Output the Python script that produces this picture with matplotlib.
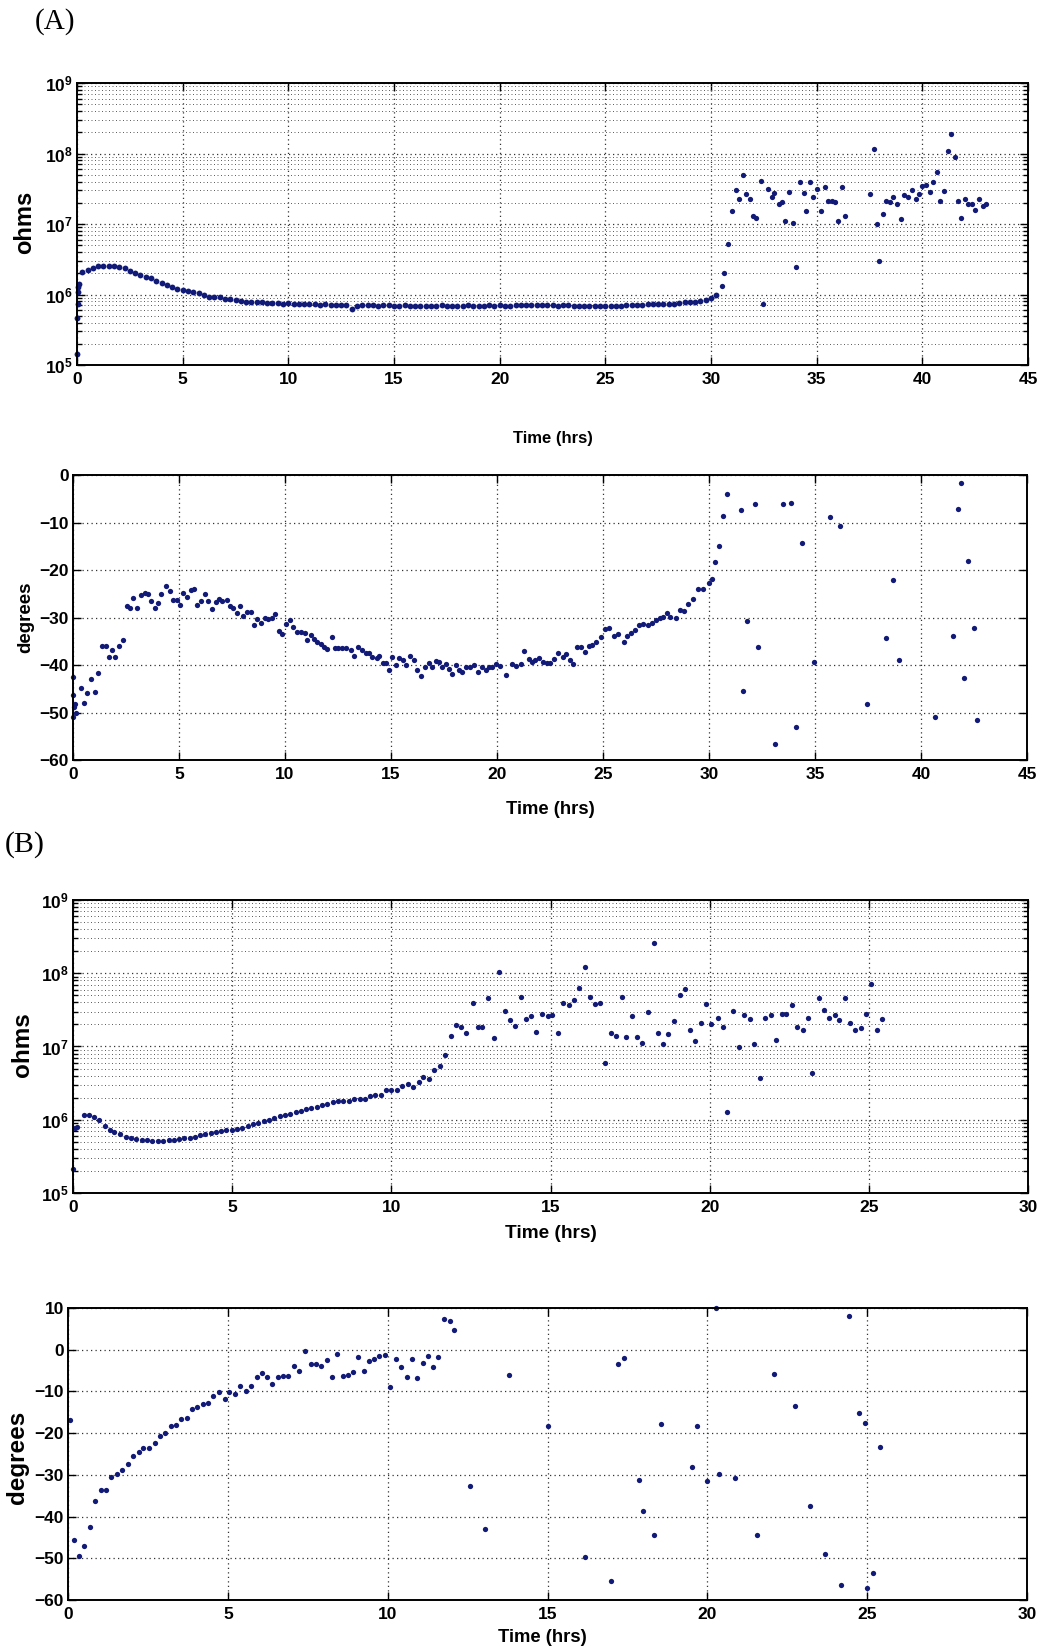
import numpy as np
import matplotlib
matplotlib.use("Agg")
import matplotlib.pyplot as plt
from matplotlib.ticker import LogLocator, NullFormatter

plt.rcParams['font.family'] = ['Liberation Sans', 'DejaVu Sans']
plt.rcParams['font.weight'] = 'bold'
plt.rcParams['mathtext.fontset'] = 'custom'
plt.rcParams['mathtext.rm'] = 'Liberation Sans:bold'
plt.rcParams['mathtext.bf'] = 'Liberation Sans:bold'
plt.rcParams['mathtext.it'] = 'Liberation Sans:bold'

# ---------------- data ----------------
# (A) impedance magnitude, log10(ohms) -- dense early part
A_OHM_T = [0.0, 0.0, 0.03, 0.05, 0.07, 0.1,
           0.25, 0.5, 0.75, 1.0, 1.25, 1.5, 1.75, 2.0, 2.25, 2.5, 2.75, 3.0, 3.25, 3.5, 3.75,
           4.0, 4.25, 4.5, 4.75, 5.0, 5.25, 5.5, 5.75, 6.0, 6.25, 6.5, 6.75, 7.0, 7.25, 7.5, 7.75,
           8.0, 8.25, 8.5, 8.75, 9.0, 9.25, 9.5, 9.75, 10.0, 10.25, 10.5, 10.75, 11.0, 11.25, 11.5,
           11.75, 12.0, 12.25, 12.5, 12.75, 13.0, 13.25, 13.5, 13.75, 14.0, 14.25, 14.5, 14.75,
           15.0, 15.25, 15.5, 15.75, 16.0, 16.25, 16.5, 16.75, 17.0, 17.25, 17.5, 17.75, 18.0,
           18.25, 18.5, 18.75, 19.0, 19.25, 19.5, 19.75, 20.0, 20.25, 20.5, 20.75, 21.0, 21.25,
           21.5, 21.75, 22.0, 22.25, 22.5, 22.75, 23.0, 23.25, 23.5, 23.75, 24.0, 24.25, 24.5,
           24.75, 25.0, 25.25, 25.5, 25.75, 26.0, 26.25, 26.5, 26.75, 27.0, 27.25, 27.5, 27.75,
           28.0, 28.25, 28.5, 28.75, 29.0, 29.25, 29.5, 29.75, 30.0, 30.25]
A_OHM_LOG = [5.15, 5.66, 5.87, 6.04, 6.11, 6.15,
             6.32, 6.35, 6.38, 6.41, 6.40, 6.41, 6.41, 6.39, 6.37, 6.33, 6.30, 6.27, 6.25, 6.23, 6.19,
             6.16, 6.13, 6.10, 6.08, 6.06, 6.05, 6.04, 6.02, 5.99, 5.97, 5.97, 5.96, 5.94, 5.93, 5.92, 5.91,
             5.90, 5.90, 5.89, 5.89, 5.88, 5.88, 5.88, 5.87, 5.88, 5.87, 5.87, 5.86, 5.86, 5.86, 5.85,
             5.86, 5.85, 5.85, 5.85, 5.85, 5.80, 5.84, 5.85, 5.85, 5.85, 5.84, 5.85, 5.85,
             5.84, 5.84, 5.85, 5.84, 5.84, 5.84, 5.84, 5.84, 5.84, 5.85, 5.84, 5.84, 5.84,
             5.84, 5.85, 5.84, 5.84, 5.84, 5.85, 5.84, 5.85, 5.84, 5.84, 5.85, 5.85, 5.85,
             5.85, 5.85, 5.85, 5.85, 5.85, 5.84, 5.85, 5.85, 5.84, 5.84, 5.84, 5.84, 5.84,
             5.84, 5.84, 5.84, 5.84, 5.84, 5.85, 5.85, 5.85, 5.85, 5.86, 5.86, 5.86, 5.86,
             5.87, 5.87, 5.88, 5.89, 5.89, 5.90, 5.91, 5.92, 5.95, 5.99]
# (A) after the jump
A_OHM_LATE = [(30.5, 6.12), (30.63, 6.30), (30.8, 6.72), (31.0, 7.18), (31.17, 7.48), (31.33, 7.36),
              (31.53, 7.69), (31.66, 7.43), (31.85, 7.36), (32.0, 7.12), (32.15, 7.09), (32.37, 7.61),
              (32.48, 5.87), (32.7, 7.50), (32.9, 7.39), (33.0, 7.44), (33.2, 7.29), (33.35, 7.31),
              (33.5, 7.04), (33.7, 7.46), (33.86, 7.02), (34.0, 6.39), (34.19, 7.60), (34.38, 7.44),
              (34.5, 7.18), (34.7, 7.60), (34.85, 7.39), (35.0, 7.49), (35.2, 7.18), (35.38, 7.52),
              (35.53, 7.33), (35.72, 7.33), (35.88, 7.31), (36.0, 7.04), (36.2, 7.53), (36.35, 7.11),
              (37.5, 7.43), (37.7, 8.06), (37.85, 7.0), (37.95, 6.48), (38.15, 7.14), (38.3, 7.33),
              (38.47, 7.31), (38.63, 7.38), (38.82, 7.29), (38.97, 7.07), (39.13, 7.41), (39.32, 7.39),
              (39.5, 7.48), (39.7, 7.35), (39.82, 7.42), (39.98, 7.54), (40.17, 7.55), (40.35, 7.46),
              (40.5, 7.59), (40.7, 7.74), (40.84, 7.33), (41.03, 7.47), (41.22, 8.03), (41.36, 8.28),
              (41.53, 7.95), (41.7, 7.33), (41.83, 7.09), (42.0, 7.36), (42.17, 7.28), (42.33, 7.28),
              (42.5, 7.20), (42.7, 7.36), (42.85, 7.26), (43.0, 7.29)]
# (A) phase, degrees
A_PHASE = [(0.0, -42.5), (0.0, -46.4), (0.02, -51.0), (0.05, -48.9), (0.1, -48.2), (0.12, -50.1),
           (0.36, -44.9), (0.53, -48.0), (0.66, -45.9), (0.85, -43.0), (1.04, -45.7), (1.16, -41.6),
           (1.38, -35.9), (1.54, -35.9), (1.68, -38.4), (1.86, -36.8), (2.0, -38.3), (2.17, -35.9),
           (2.36, -34.7), (2.53, -27.6), (2.67, -27.9), (2.85, -25.8), (3.02, -28.1), (3.22, -25.2),
           (3.38, -24.8), (3.52, -25.1), (3.68, -26.6), (3.85, -27.9), (4.0, -26.9), (4.17, -25.1),
           (4.37, -23.3), (4.56, -24.4), (4.7, -26.4), (4.89, -26.4), (5.05, -27.3), (5.19, -24.9),
           (5.36, -25.7), (5.55, -24.3), (5.72, -23.9), (5.86, -27.4), (6.02, -26.6), (6.23, -25.1),
           (6.38, -26.5), (6.56, -28.3), (6.73, -26.7), (6.89, -26.0), (7.04, -26.5), (7.25, -26.4),
           (7.4, -27.6), (7.56, -28.0), (7.72, -29.0), (7.88, -27.5), (8.03, -29.6), (8.22, -28.8),
           (8.38, -28.8), (8.54, -31.5), (8.69, -30.4), (8.87, -31.2), (9.04, -30.2), (9.21, -30.4),
           (9.37, -30.2), (9.53, -29.3), (9.72, -32.8), (9.87, -33.4), (10.03, -31.4), (10.22, -30.6),
           (10.39, -32.0), (10.55, -33.0), (10.74, -33.0), (10.93, -33.2), (11.05, -34.8), (11.21, -33.6),
           (11.37, -34.5), (11.53, -35.2), (11.68, -35.5), (11.84, -36.2), (12.0, -36.7), (12.2, -34.1),
           (12.36, -36.4), (12.52, -36.4), (12.7, -36.4), (12.9, -36.4), (13.1, -36.9), (13.27, -38.0),
           (13.46, -36.2), (13.65, -36.9), (13.8, -37.4), (13.96, -37.4), (14.12, -38.3), (14.32, -38.5),
           (14.43, -38.0), (14.6, -39.6), (14.75, -39.5), (14.9, -41.0), (15.06, -38.3), (15.25, -39.9),
           (15.38, -38.5), (15.57, -39.0), (15.72, -40.1), (15.88, -38.0), (16.07, -39.0), (16.24, -41.0),
           (16.4, -42.4), (16.6, -40.4), (16.8, -39.5), (16.95, -40.4), (17.1, -39.2), (17.26, -39.4),
           (17.42, -40.4), (17.58, -39.7), (17.74, -40.8), (17.9, -41.8), (18.05, -40.1), (18.2, -41.1),
           (18.36, -41.4), (18.55, -40.4), (18.74, -40.4), (18.93, -40.1), (19.09, -41.5), (19.28, -40.4),
           (19.47, -41.1), (19.62, -40.4), (19.78, -40.4), (19.97, -39.7), (20.14, -40.3), (20.41, -42.2),
           (20.72, -39.7), (20.9, -40.2), (21.13, -39.8), (21.28, -37.0), (21.49, -38.7), (21.65, -39.4),
           (21.8, -39.0), (21.96, -38.5), (22.15, -39.3), (22.34, -39.6), (22.5, -39.5), (22.7, -38.8),
           (22.9, -37.5), (23.1, -38.4), (23.26, -37.7), (23.42, -38.9), (23.6, -39.7), (23.77, -36.2),
           (23.94, -36.2), (24.13, -37.2), (24.32, -36.1), (24.5, -35.8), (24.68, -35.1), (24.89, -34.0),
           (25.1, -32.5), (25.28, -32.3), (25.52, -33.9), (25.73, -33.5), (26.0, -35.1), (26.15, -33.9),
           (26.34, -33.2), (26.5, -32.6), (26.69, -31.6), (26.9, -31.3), (27.1, -31.6), (27.3, -31.1),
           (27.5, -30.6), (27.69, -30.1), (27.85, -29.8), (28.0, -29.0), (28.16, -29.8), (28.43, -30.1),
           (28.64, -28.5), (28.83, -28.7), (29.03, -27.1), (29.24, -26.1), (29.5, -24.0), (29.71, -24.0),
           (29.98, -22.8), (30.14, -21.8), (30.3, -18.4), (30.49, -14.9), (30.66, -8.6), (30.85, -4.1),
           (31.5, -7.4), (31.6, -45.5), (31.8, -30.7), (32.16, -6.1), (32.32, -36.2), (33.13, -56.6),
           (33.5, -6.1), (33.85, -5.9), (34.12, -53.1), (34.38, -14.4), (34.96, -39.3), (35.69, -8.8),
           (36.18, -10.7), (37.45, -48.2), (38.33, -34.4), (38.66, -22.1), (38.94, -38.9), (40.67, -50.9),
           (41.5, -33.9), (41.73, -7.2), (41.89, -1.6), (42.01, -42.7), (42.22, -18.2), (42.5, -32.3),
           (42.66, -51.6)]

# (B) impedance magnitude, log10(ohms)
B_OHM = [(0.0, 5.33), (0.07, 5.89), (0.12, 5.90), (0.33, 6.07), (0.49, 6.07), (0.67, 6.04),
         (0.82, 5.99), (0.99, 5.92), (1.15, 5.86), (1.3, 5.83), (1.48, 5.80), (1.65, 5.77),
         (1.81, 5.75), (1.98, 5.74), (2.16, 5.73), (2.31, 5.72), (2.48, 5.71), (2.66, 5.71),
         (2.83, 5.71), (3.0, 5.72), (3.17, 5.72), (3.33, 5.74), (3.49, 5.75), (3.67, 5.75),
         (3.82, 5.77), (3.98, 5.79), (4.16, 5.81), (4.32, 5.82), (4.48, 5.83), (4.66, 5.84),
         (4.81, 5.86), (4.99, 5.86), (5.15, 5.88), (5.31, 5.89), (5.49, 5.91), (5.65, 5.94),
         (5.81, 5.95), (5.99, 5.98), (6.17, 6.0), (6.32, 6.03), (6.49, 6.05), (6.66, 6.07),
         (6.82, 6.08), (7.0, 6.11), (7.16, 6.12), (7.31, 6.14), (7.49, 6.16), (7.66, 6.18),
         (7.83, 6.20), (7.99, 6.22), (8.17, 6.24), (8.33, 6.26), (8.49, 6.25), (8.67, 6.26),
         (8.83, 6.28), (9.0, 6.29), (9.17, 6.29), (9.32, 6.33), (9.48, 6.34), (9.66, 6.34),
         (9.84, 6.40), (10.0, 6.41), (10.18, 6.41), (10.35, 6.46), (10.52, 6.49), (10.68, 6.45),
         (10.86, 6.51), (11.01, 6.59), (11.19, 6.56), (11.35, 6.68), (11.53, 6.73), (11.69, 6.88),
         (11.86, 7.15), (12.03, 7.29), (12.2, 7.27), (12.36, 7.18), (12.55, 7.59), (12.71, 7.26),
         (12.86, 7.27), (13.04, 7.66), (13.21, 7.12), (13.38, 8.02), (13.56, 7.48), (13.74, 7.36),
         (13.9, 7.28), (14.06, 7.68), (14.24, 7.37), (14.38, 7.41), (14.56, 7.20), (14.72, 7.45),
         (14.91, 7.42), (15.05, 7.43), (15.22, 7.18), (15.39, 7.59), (15.57, 7.57), (15.73, 7.64),
         (15.9, 7.80), (16.07, 8.09), (16.23, 7.67), (16.4, 7.58), (16.57, 7.59), (16.71, 6.78),
         (16.89, 7.18), (17.05, 7.14), (17.24, 7.68), (17.38, 7.13), (17.57, 7.41), (17.71, 7.13),
         (17.89, 7.05), (18.05, 7.47), (18.25, 8.41), (18.38, 7.19), (18.54, 7.03), (18.7, 7.17),
         (18.88, 7.35), (19.06, 7.70), (19.24, 7.79), (19.37, 7.22), (19.55, 7.08), (19.72, 7.32),
         (19.9, 7.58), (20.04, 7.31), (20.26, 7.39), (20.42, 7.27), (20.56, 6.11), (20.74, 7.49),
         (20.91, 6.99), (21.08, 7.43), (21.27, 7.38), (21.4, 7.03), (21.58, 6.57), (21.74, 7.39),
         (21.92, 7.43), (22.08, 7.09), (22.27, 7.45), (22.41, 7.45), (22.6, 7.56), (22.75, 7.27),
         (22.93, 7.22), (23.09, 7.39), (23.23, 6.64), (23.42, 7.66), (23.59, 7.50), (23.75, 7.39),
         (23.93, 7.43), (24.07, 7.36), (24.26, 7.66), (24.41, 7.32), (24.58, 7.23), (24.74, 7.25),
         (24.92, 7.45), (25.08, 7.86), (25.25, 7.23), (25.42, 7.37)]

# (B) phase, degrees
B_PHASE = [(0.05, -16.8), (0.18, -45.5), (0.33, -49.4), (0.5, -47.0), (0.68, -42.6), (0.84, -36.2),
           (1.04, -33.6), (1.2, -33.6), (1.36, -30.4), (1.54, -29.7), (1.7, -28.8), (1.89, -27.3),
           (2.04, -25.5), (2.22, -24.6), (2.36, -23.5), (2.54, -23.5), (2.71, -22.3), (2.88, -20.7),
           (3.04, -20.0), (3.21, -18.2), (3.38, -18.0), (3.54, -16.5), (3.71, -16.4), (3.89, -14.1),
           (4.05, -13.7), (4.22, -13.1), (4.38, -12.8), (4.55, -11.1), (4.72, -10.1), (4.91, -11.8),
           (5.05, -10.1), (5.23, -10.5), (5.39, -8.6), (5.57, -10.0), (5.73, -8.7), (5.9, -6.6),
           (6.06, -5.5), (6.23, -6.5), (6.39, -8.1), (6.56, -6.5), (6.72, -6.3), (6.89, -6.3),
           (7.07, -3.9), (7.24, -5.1), (7.41, -0.2), (7.59, -3.4), (7.76, -3.4), (7.93, -4.0),
           (8.09, -2.5), (8.26, -6.6), (8.42, -1.0), (8.59, -6.4), (8.75, -6.1), (8.93, -5.4),
           (9.08, -1.7), (9.25, -5.2), (9.42, -2.6), (9.58, -2.2), (9.74, -1.4), (9.92, -1.2),
           (10.07, -9.0), (10.26, -2.3), (10.42, -4.1), (10.59, -6.5), (10.75, -2.2), (10.93, -6.7),
           (11.09, -3.2), (11.26, -1.5), (11.42, -4.2), (11.59, -1.8), (11.76, 7.4), (11.94, 6.9),
           (12.09, 4.8), (12.56, -32.7), (13.03, -43.0), (13.78, -6.1), (15.02, -18.2), (16.16, -49.7),
           (16.98, -55.5), (17.21, -3.4), (17.38, -2.0), (17.86, -31.3), (17.99, -38.7), (18.32, -44.5),
           (18.55, -17.9), (19.53, -28.2), (19.69, -18.2), (20.0, -31.4), (20.27, 9.9), (20.37, -29.9),
           (20.88, -30.8), (21.54, -44.5), (22.07, -5.9), (22.74, -13.6), (23.21, -37.5), (23.68, -48.9),
           (24.18, -56.5), (24.42, 8.0), (24.74, -15.2), (24.92, -17.6), (25.0, -57.1), (25.19, -53.6),
           (25.39, -23.3)]

X_TICKS_A = [0, 5, 10, 15, 20, 25, 30, 35, 40, 45]
X_TICKS_B = [0, 5, 10, 15, 20, 25, 30]
LOG_TICKS = [1e5, 1e6, 1e7, 1e8, 1e9]
LOG_LABELS = [r'$\mathbf{10^{5}}$', r'$\mathbf{10^{6}}$', r'$\mathbf{10^{7}}$',
              r'$\mathbf{10^{8}}$', r'$\mathbf{10^{9}}$']
DEG_TICKS_A = [-60, -50, -40, -30, -20, -10, 0]
DEG_TICKS_B = [-60, -50, -40, -30, -20, -10, 0, 10]

# ---------------- style ----------------
W, H = 1049, 1650
MC = '#121a78'
MS = 3.8


def frac(l, r, t, b):
    return [l / W, 1 - b / H, (r - l) / W, (b - t) / H]


def style(ax, xticks, xlim):
    ax.set_xlim(*xlim)
    ax.set_xticks(xticks)
    ax.tick_params(which='both', direction='in', top=True, right=True,
                   labelsize=12.5, width=1.0, pad=5)
    ax.tick_params(which='major', length=6)
    ax.tick_params(which='minor', length=3.5)
    ax.grid(True, which='major', ls=(0, (1, 2.6)), color='0.2', lw=0.9)
    for s in ax.spines.values():
        s.set_linewidth(1.4)
        s.set_color('black')


def bold_ticks(ax):
    for lab in ax.get_xticklabels() + ax.get_yticklabels():
        lab.set_fontweight('bold')


fig = plt.figure(figsize=(W / 100, H / 100), dpi=100)

# ---- A1
ax1 = fig.add_axes(frac(77, 1028, 83, 365))
ax1.set_yscale('log')
ax1.plot(A_OHM_T, 10 ** np.array(A_OHM_LOG), 'o', ms=MS + 0.4, color=MC, mew=0, clip_on=False)
t, v = zip(*A_OHM_LATE)
ax1.plot(t, 10 ** np.array(v), 'o', ms=MS, color=MC, mew=0)
style(ax1, X_TICKS_A, (0, 45))
ax1.set_ylim(1e5, 1e9)
ax1.set_yticks(LOG_TICKS)
ax1.set_yticklabels(LOG_LABELS)
ax1.yaxis.set_minor_locator(LogLocator(base=10, subs=range(2, 10)))
ax1.yaxis.set_minor_formatter(NullFormatter())
ax1.grid(True, which='minor', axis='y', ls=(0, (1, 2.6)), color='0.35', lw=0.7)
ax1.tick_params(axis='y', pad=3)
ax1.set_ylabel('ohms', fontsize=17, fontweight='bold', va='center')
ax1.yaxis.set_label_coords(-0.055, 0.507)
ax1.set_xlabel('Time (hrs)', fontsize=12, fontweight='bold', va='center')
ax1.xaxis.set_label_coords(0.5, -0.262)
bold_ticks(ax1)

# ---- A2
ax2 = fig.add_axes(frac(73, 1027, 475, 760))
t, v = zip(*A_PHASE)
ax2.plot(t, v, 'o', ms=MS, color=MC, mew=0, clip_on=False)
style(ax2, X_TICKS_A, (0, 45))
ax2.set_ylim(-60, 0)
ax2.set_yticks(DEG_TICKS_A)
ax2.tick_params(axis='y', pad=3)
ax2.set_ylabel('degrees', fontsize=13.5, fontweight='bold', va='center')
ax2.yaxis.set_label_coords(-0.050, 0.502)
ax2.set_xlabel('Time (hrs)', fontsize=13.3, fontweight='bold', va='center')
ax2.xaxis.set_label_coords(0.5, -0.175)
bold_ticks(ax2)

# ---- B1
ax3 = fig.add_axes(frac(73, 1028, 900, 1193))
ax3.set_yscale('log')
t, v = zip(*B_OHM)
ax3.plot(t, 10 ** np.array(v), 'o', ms=MS, color=MC, mew=0, clip_on=False)
style(ax3, X_TICKS_B, (0, 30))
ax3.set_ylim(1e5, 1e9)
ax3.set_yticks(LOG_TICKS)
ax3.set_yticklabels(LOG_LABELS)
ax3.yaxis.set_minor_locator(LogLocator(base=10, subs=range(2, 10)))
ax3.yaxis.set_minor_formatter(NullFormatter())
ax3.grid(True, which='minor', axis='y', ls=(0, (1, 2.6)), color='0.35', lw=0.7)
ax3.tick_params(axis='y', pad=3)
ax3.set_ylabel('ohms', fontsize=17.5, fontweight='bold', va='center')
ax3.yaxis.set_label_coords(-0.053, 0.505)
ax3.set_xlabel('Time (hrs)', fontsize=13.7, fontweight='bold', va='center')
ax3.xaxis.set_label_coords(0.5, -0.137)
bold_ticks(ax3)

# ---- B2
ax4 = fig.add_axes(frac(68, 1027, 1308, 1600))
t, v = zip(*B_PHASE)
ax4.plot(t, v, 'o', ms=MS, color=MC, mew=0, clip_on=False)
style(ax4, X_TICKS_B, (0, 30))
ax4.set_ylim(-60, 10)
ax4.set_yticks(DEG_TICKS_B)
ax4.tick_params(axis='y', pad=3)
ax4.set_ylabel('degrees', fontsize=17.5, fontweight='bold', va='center')
ax4.yaxis.set_label_coords(-0.053, 0.49)
ax4.set_xlabel('Time (hrs)', fontsize=13.3, fontweight='bold', va='center')
ax4.xaxis.set_label_coords(0.495, -0.127)
bold_ticks(ax4)

# panel letters
fig.text(35 / W, 1 - 22 / H, '(A)', family='Liberation Serif', fontweight='normal',
         fontsize=21, ha='left', va='center')
fig.text(5 / W, 1 - 845 / H, '(B)', family='Liberation Serif', fontweight='normal',
         fontsize=21.5, ha='left', va='center')

fig.savefig('out.png', dpi=100)
